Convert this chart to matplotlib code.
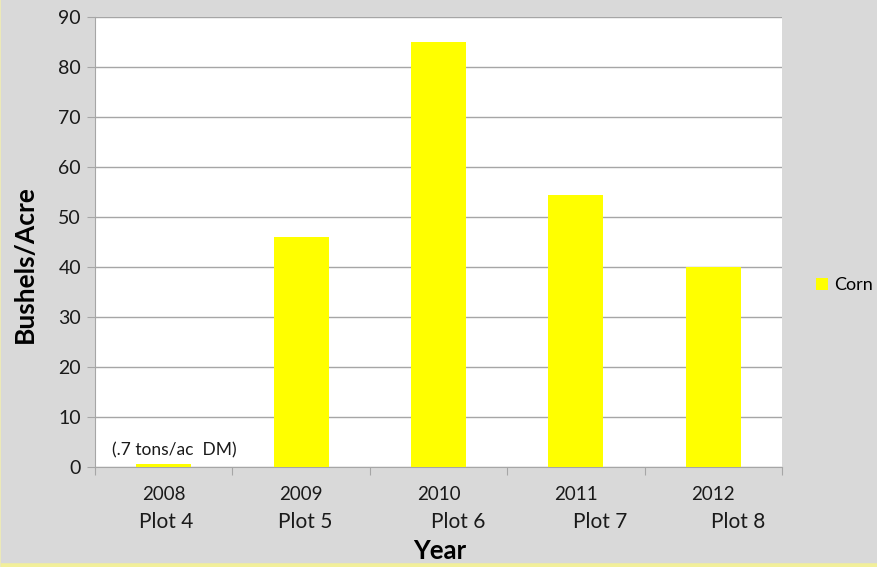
import matplotlib
matplotlib.use("Agg")
import matplotlib.pyplot as plt
from matplotlib.lines import Line2D
from matplotlib.ticker import FixedLocator, NullFormatter

years = ["2008", "2009", "2010", "2011", "2012"]
plots = ["Plot 4", "Plot 5", "Plot 6", "Plot 7", "Plot 8"]
corn = [0.7, 46, 85, 54.5, 40]
note = "(.7 tons/ac  DM)"

plt.rcParams['font.family'] = ['Lato', 'DejaVu Sans']

fig = plt.figure(figsize=(8.77, 5.67), dpi=100, facecolor="#d9d9d9")
ax = fig.add_axes([95/877, 100/567, 687/877, 450/567])
ax.set_facecolor("white")

x = list(range(len(years)))
ax.bar(x, corn, width=0.4, color="#ffff00", label="Corn", zorder=3)

ax.set_xlim(-0.5, len(years) - 0.5)
ax.set_ylim(0, 90)
ax.set_yticks(range(0, 91, 10))
ax.yaxis.grid(True, color="#a6a6a6", linewidth=1.0, zorder=0)
ax.tick_params(axis="y", length=6, color="#a6a6a6", labelsize=14, pad=4, labelcolor="#1a1a1a")

ax.xaxis.set_major_locator(FixedLocator([i - 0.5 for i in range(len(years) + 1)]))
ax.xaxis.set_major_formatter(NullFormatter())
ax.tick_params(axis="x", length=6, color="#a6a6a6")

for s in ["top", "right"]:
    ax.spines[s].set_visible(False)
for s in ["left", "bottom"]:
    ax.spines[s].set_color("#a6a6a6")

# category labels
plot_offsets = [0.02, 0.03, 0.14, 0.18, 0.18]
for i, (yr, pl) in enumerate(zip(years, plots)):
    ax.text(i, -0.06, yr, transform=ax.get_xaxis_transform(), ha="center", va="center",
            fontsize=13.5, color="#1a1a1a")
    ax.text(i + plot_offsets[i], -0.123, pl, transform=ax.get_xaxis_transform(), ha="center",
            va="center", fontsize=15, color="#1a1a1a")

ax.text(0.08, 3.4, note, ha="center", va="center", fontsize=12.5, color="#1a1a1a", zorder=4)

ax.set_ylabel("Bushels/Acre", fontsize=19, fontweight="bold", va="center")
ax.yaxis.set_label_coords(-0.102, 0.45)
fig.text(440/877, 1 - 551/567, "Year", ha="center", va="center", fontsize=18.5, fontweight="bold")

leg = fig.legend(loc="center left", bbox_to_anchor=(816/877, 1 - 285/567), frameon=False,
                 fontsize=13, handlelength=0.65, handleheight=0.65, handletextpad=0.35,
                 borderaxespad=0, borderpad=0)

# figure edge lines (bottom and left)
fig.add_artist(Line2D([0, 1], [0.002, 0.002], transform=fig.transFigure,
                      color="#f2ef9a", linewidth=4, zorder=10))
fig.add_artist(Line2D([0.0005, 0.0005], [0, 1], transform=fig.transFigure,
                      color="#ece9b8", linewidth=1.5, zorder=10))

fig.savefig("out.png", dpi=100, facecolor=fig.get_facecolor())
